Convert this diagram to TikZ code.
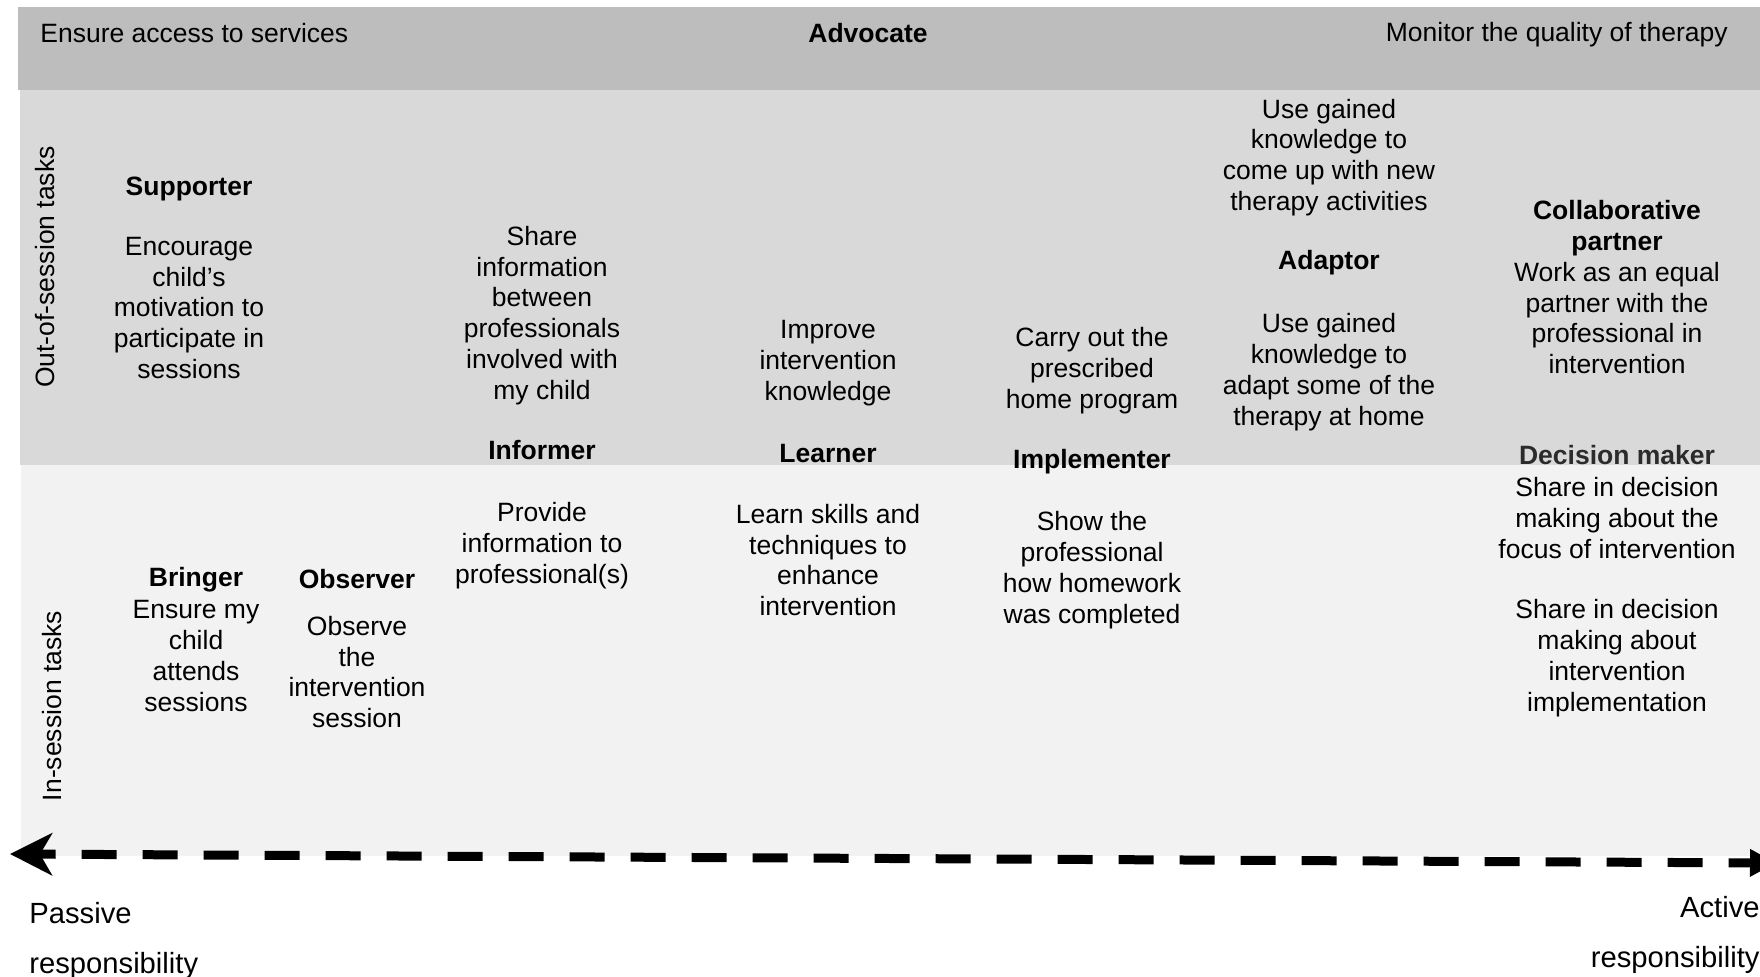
\documentclass[tikz,border=0pt]{standalone}
\usepackage{fontspec}
\setmainfont{Liberation Sans}
\usetikzlibrary{arrows.meta}
\definecolor{bandTop}{HTML}{BDBDBD}
\definecolor{bandOut}{HTML}{D9D9D9}
\definecolor{bandIn}{HTML}{F2F2F2}
\definecolor{dmGray}{HTML}{2B2B2B}
\begin{document}
\begin{tikzpicture}[x=0.5pt,y=-0.5pt,
  txt/.style={inner sep=0pt, align=center, font=\fontsize{13.25}{15.45}\selectfont},
  role/.style={txt, font=\fontsize{13.25}{15.45}\selectfont\bfseries},
  endlabel/.style={inner sep=0pt, font=\fontsize{14.6}{25}\selectfont},
  axis/.style={line width=4.5pt, dash pattern=on 17.5pt off 13pt, dash phase=8.5pt}]
\useasboundingbox (0,0) rectangle (1760,976);
\begin{scope}
\clip (0,0) rectangle (1760,976);
% bands
\fill[bandTop] (18,7) rectangle (1760,90);
\fill[bandOut] (20,90) rectangle (1760,465);
\fill[bandIn] (21,465) rectangle (1760,856);
% top band texts
\node[txt, anchor=west] (access) at (40,33) {Ensure access to services};
\node[role] (advocate) at (868,33) {Advocate};
\node[txt, anchor=east] (monitor) at (1728,35) {Monitor the quality of therapy};
% side labels
\node[txt, rotate=90] (outlbl) at (45,267) {Out-of-session tasks};
\node[txt, rotate=90] (inlbl) at (52,706) {In-session tasks};
% Supporter
\node[role] (supporter) at (189,188.5) {Supporter};
\node[txt] (supporterD) at (189,308) {Encourage\\child’s\\motivation to\\participate in\\sessions};
% Informer
\node[txt] (informerA) at (542,315.5) {Share\\information\\between\\professionals\\involved with\\my child};
\node[role] (informer) at (542,450) {Informer};
\node[txt] (informerB) at (542,545.5) {Provide\\information to\\professional(s)};
% Learner
\node[txt] (learnerA) at (828,363.5) {Improve\\intervention\\knowledge};
\node[role] (learner) at (828,454) {Learner};
\node[txt] (learnerB) at (828,560) {Learn skills and\\techniques to\\enhance\\intervention};
% Implementer
\node[txt] (implA) at (1092,371) {Carry out the\\prescribed\\home program};
\node[role] (impl) at (1092,462) {Implementer};
\node[txt] (implB) at (1092,570) {Show the\\professional\\how homework\\was completed};
% Adaptor
\node[txt] (adaptA) at (1329,157.5) {Use gained\\knowledge to\\come up with new\\therapy activities};
\node[role] (adapt) at (1329,263) {Adaptor};
\node[txt] (adaptB) at (1329,372) {Use gained\\knowledge to\\adapt some of the\\therapy at home};
% Collaborative partner
\node[role] (collab) at (1617,228) {Collaborative\\partner};
\node[txt] (collabD) at (1617,318) {Work as an equal\\partner with the\\professional in\\intervention};
\node[role, text=dmGray] (dm) at (1617,455) {Decision maker};
\node[txt] (dmA) at (1617,518) {Share in decision\\making about the\\focus of intervention};
\node[txt] (dmB) at (1617,658) {Share in decision\\making about\\intervention\\implementation};
% Bringer
\node[role] (bringer) at (196,580) {Bringer};
\node[txt] (bringerD) at (196,656) {Ensure my\\child\\attends\\sessions};
% Observer
\node[role] (observer) at (357,579) {Observer};
\node[txt] (observerD) at (357,672) {Observe\\the\\intervention\\session};
% responsibility axis
\coordinate (passiveEnd) at (10,854);
\coordinate (activeEnd) at (1776,863);
\draw[axis, {Stealth[length=21pt,width=21pt,inset=6pt]}-{Triangle[length=13pt,width=13pt]}] (passiveEnd) -- (activeEnd);
\node[endlabel, align=left, anchor=west] (passive) at (29,940.5) {Passive\\responsibility};
\node[endlabel, align=right, anchor=east] (active) at (1760,934.5) {Active\\responsibility};
\end{scope}
\end{tikzpicture}
\end{document}
